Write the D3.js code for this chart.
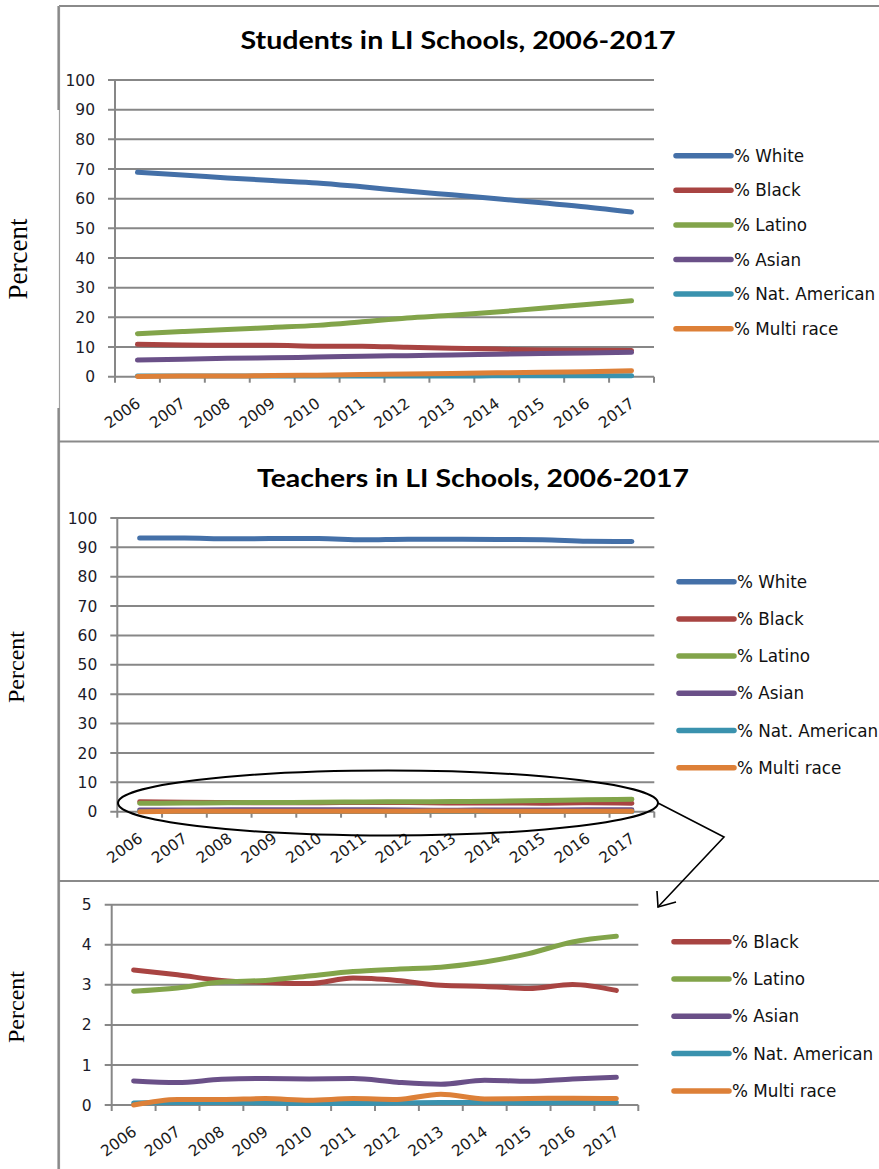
<!DOCTYPE html>
<html>
<head>
<meta charset="utf-8">
<script src="https://cdn.jsdelivr.net/npm/d3@7"></script>
<style>
  html, body { margin: 0; padding: 0; background: #fff; }
  svg { display: block; }
</style>
</head>
<body>
<svg id="chart" width="879" height="1169"></svg>
<script>
// ---------------- DATA ----------------
const years = ["2006","2007","2008","2009","2010","2011","2012","2013","2014","2015","2016","2017"];
const seriesNames = ["% White", "% Black", "% Latino", "% Asian", "% Nat. American", "% Multi race"];
const seriesColors = ["#4470A8", "#A84442", "#82A44A", "#6A5088", "#3A92AE", "#DD8038"];

const studentTitle = "Students in LI Schools, 2006-2017";
const teacherTitle = "Teachers in LI Schools, 2006-2017";
const yAxisLabel = "Percent";

const studentWhite  = [68.9, 68.0, 67.0, 66.1, 65.3, 64.0, 62.6, 61.3, 60.0, 58.6, 57.2, 55.5];
const studentBlack  = [10.9, 10.7, 10.6, 10.6, 10.3, 10.3, 9.9, 9.6, 9.3, 9.0, 8.9, 8.8];
const studentLatino = [14.5, 15.2, 15.9, 16.6, 17.3, 18.5, 19.8, 20.7, 21.8, 23.1, 24.3, 25.6];
const studentAsian  = [5.6, 5.9, 6.2, 6.4, 6.6, 6.9, 7.1, 7.3, 7.6, 7.8, 8.0, 8.2];
const studentNatAm  = [0.2, 0.2, 0.2, 0.2, 0.2, 0.2, 0.2, 0.2, 0.3, 0.3, 0.3, 0.3];
const studentMulti  = [0.1, 0.2, 0.2, 0.4, 0.5, 0.7, 0.9, 1.1, 1.3, 1.5, 1.7, 2.0];

const teacherWhite  = [93.2, 93.2, 92.9, 93.0, 93.0, 92.6, 92.8, 92.8, 92.7, 92.6, 92.1, 92.0];
const teacherBlack  = [3.37, 3.25, 3.11, 3.06, 3.03, 3.17, 3.11, 2.99, 2.96, 2.91, 3.01, 2.86];
const teacherLatino = [2.84, 2.92, 3.07, 3.11, 3.22, 3.33, 3.39, 3.44, 3.57, 3.78, 4.07, 4.21];
const teacherAsian  = [0.60, 0.56, 0.64, 0.66, 0.65, 0.66, 0.57, 0.52, 0.62, 0.59, 0.65, 0.69];
const teacherNatAm  = [0.05, 0.06, 0.06, 0.05, 0.04, 0.04, 0.05, 0.06, 0.06, 0.05, 0.06, 0.06];
const teacherMulti  = [0.00, 0.14, 0.14, 0.16, 0.12, 0.16, 0.14, 0.27, 0.15, 0.16, 0.17, 0.16];

const yTicksPercent = [0, 10, 20, 30, 40, 50, 60, 70, 80, 90, 100];
const yTicksZoom = [0, 1, 2, 3, 4, 5];

// ---------------- DRAWING ----------------
const svg = d3.select("#chart");
const GRID = "#878787";

// frame / panel borders
const frame = svg.append("g");
frame.append("line").attr("x1", 59).attr("x2", 879).attr("y1", 6).attr("y2", 6)
  .attr("stroke", "#8a8a8a").attr("stroke-width", 2);
frame.append("line").attr("x1", 59.5).attr("x2", 59.5).attr("y1", 6).attr("y2", 1169)
  .attr("stroke", "#a0a0a0").attr("stroke-width", 1.2);
frame.append("line").attr("x1", 58.5).attr("x2", 58.5).attr("y1", 6).attr("y2", 110)
  .attr("stroke", "#8a8a8a").attr("stroke-width", 2.2);
frame.append("line").attr("x1", 58.5).attr("x2", 58.5).attr("y1", 408).attr("y2", 1169)
  .attr("stroke", "#8a8a8a").attr("stroke-width", 2.2);
frame.append("line").attr("x1", 59).attr("x2", 879).attr("y1", 441.5).attr("y2", 441.5)
  .attr("stroke", "#8a8a8a").attr("stroke-width", 2);
frame.append("line").attr("x1", 59).attr("x2", 879).attr("y1", 881).attr("y2", 881)
  .attr("stroke", "#8a8a8a").attr("stroke-width", 2);

function drawPanel(cfg) {
  const g = svg.append("g");
  const x = d3.scaleBand().domain(years).range([cfg.left, cfg.right]);
  const y = d3.scaleLinear().domain([0, d3.max(cfg.yTicks)]).range([cfg.bottom, cfg.top]);

  // gridlines (extend left as tick marks)
  g.append("g").selectAll("line").data(cfg.yTicks).join("line")
    .attr("x1", cfg.left - 7).attr("x2", cfg.right)
    .attr("y1", d => y(d)).attr("y2", d => y(d))
    .attr("stroke", GRID).attr("stroke-width", 2);

  // y axis line
  g.append("line").attr("x1", cfg.left).attr("x2", cfg.left)
    .attr("y1", cfg.top).attr("y2", cfg.bottom + 6)
    .attr("stroke", GRID).attr("stroke-width", 2);

  // x tick marks at band boundaries
  const bounds = years.map(d => x(d)).concat([x.range()[1]]);
  g.append("g").selectAll("line").data(bounds.slice(1)).join("line")
    .attr("x1", d => d).attr("x2", d => d)
    .attr("y1", cfg.bottom).attr("y2", cfg.bottom + 6)
    .attr("stroke", GRID).attr("stroke-width", 2);

  // y tick labels
  g.append("g").selectAll("text").data(cfg.yTicks).join("text")
    .attr("x", cfg.left - 20).attr("y", d => y(d)).attr("dy", "0.36em")
    .attr("text-anchor", "end")
    .attr("font-family", "'DejaVu Sans', Verdana, sans-serif")
    .attr("font-size", 15.5).attr("fill", "#1b1b2a")
    .text(d => d);

  // x tick labels
  g.append("g").selectAll("text").data(years).join("text")
    .attr("transform", d => `translate(${x(d) + x.bandwidth() / 2 + 4},${cfg.bottom + 29}) rotate(-36)`)
    .attr("text-anchor", "end")
    .attr("font-family", "'DejaVu Sans', Verdana, sans-serif")
    .attr("font-size", 15.5).attr("fill", "#1b1b1b")
    .text(d => d);

  // title
  if (cfg.title) {
    g.append("text")
      .attr("x", cfg.titleX).attr("y", cfg.titleY)
      .attr("font-family", "Lato, 'Open Sans', sans-serif")
      .attr("font-weight", "bold").attr("font-size", 25)
      .attr("textLength", cfg.titleLen).attr("lengthAdjust", "spacingAndGlyphs")
      .attr("fill", "#000")
      .text(cfg.title);
  }

  // y-axis label
  g.append("text")
    .attr("transform", `translate(${cfg.labelX},${cfg.labelY}) rotate(-90)`)
    .attr("text-anchor", "middle")
    .attr("font-family", "'Liberation Serif', 'Times New Roman', serif")
    .attr("font-size", cfg.labelSize).attr("fill", "#000")
    .text(yAxisLabel);

  // lines
  const line = d3.line()
    .x((d, i) => x(years[i]) + x.bandwidth() / 2)
    .y(d => y(d))
    .curve(d3.curveMonotoneX);
  g.append("g").selectAll("path").data(cfg.series).join("path")
    .attr("d", s => line(s.values))
    .attr("fill", "none")
    .attr("stroke", s => s.color)
    .attr("stroke-width", 5)
    .attr("stroke-linecap", "round")
    .attr("stroke-linejoin", "round");

  // legend
  const lg = g.append("g").selectAll("g").data(cfg.series).join("g")
    .attr("transform", (s, i) => `translate(${cfg.legendX},${cfg.legendY + i * cfg.legendStep})`);
  lg.append("line").attr("x1", 0).attr("x2", 55).attr("y1", 0).attr("y2", 0)
    .attr("stroke", s => s.color).attr("stroke-width", 5.5).attr("stroke-linecap", "round");
  lg.append("text").attr("x", 58).attr("y", 0).attr("dy", "0.36em")
    .attr("font-family", "'DejaVu Sans', Verdana, sans-serif")
    .attr("font-size", 16.8).attr("fill", "#111")
    .text(s => s.name);
  return { x, y, g };
}

function makeSeries(arrs, idx) {
  return idx.map((k, j) => ({ name: seriesNames[k], color: seriesColors[k], values: arrs[j] }));
}

// Panel 1: Students
drawPanel({
  left: 115, right: 654, top: 80, bottom: 376.7,
  yTicks: yTicksPercent,
  title: studentTitle, titleX: 240.5, titleY: 48.5, titleLen: 435,
  labelX: 27, labelY: 259, labelSize: 27,
  legendX: 676, legendY: 155.7, legendStep: 34.6,
  series: makeSeries([studentWhite, studentBlack, studentLatino, studentAsian, studentNatAm, studentMulti], [0,1,2,3,4,5])
});

// Panel 2: Teachers
drawPanel({
  left: 117.3, right: 654.3, top: 518, bottom: 811.7,
  yTicks: yTicksPercent,
  title: teacherTitle, titleX: 257, titleY: 487, titleLen: 432,
  labelX: 23.5, labelY: 667, labelSize: 24,
  legendX: 679, legendY: 581.7, legendStep: 37.2,
  series: makeSeries([teacherWhite, teacherBlack, teacherLatino, teacherAsian, teacherNatAm, teacherMulti], [0,1,2,3,4,5])
});

// Panel 3: Teachers zoomed (0-5%)
drawPanel({
  left: 111.7, right: 638.3, top: 904.7, bottom: 1105,
  yTicks: yTicksZoom,
  title: null,
  labelX: 24, labelY: 1007, labelSize: 24,
  legendX: 674, legendY: 941.7, legendStep: 37.3,
  series: makeSeries([teacherBlack, teacherLatino, teacherAsian, teacherNatAm, teacherMulti], [1,2,3,4,5])
});

// Callout ellipse and arrow
const ann = svg.append("g");
ann.append("ellipse").attr("cx", 388).attr("cy", 803).attr("rx", 270).attr("ry", 32.5)
  .attr("fill", "none").attr("stroke", "#000").attr("stroke-width", 2);
ann.append("polyline").attr("points", "658,803 724,837 658,907")
  .attr("fill", "none").attr("stroke", "#000").attr("stroke-width", 1.6);
ann.append("polyline").attr("points", "657,891 658,907 676,902")
  .attr("fill", "none").attr("stroke", "#000").attr("stroke-width", 1.6);
</script>
</body>
</html>
